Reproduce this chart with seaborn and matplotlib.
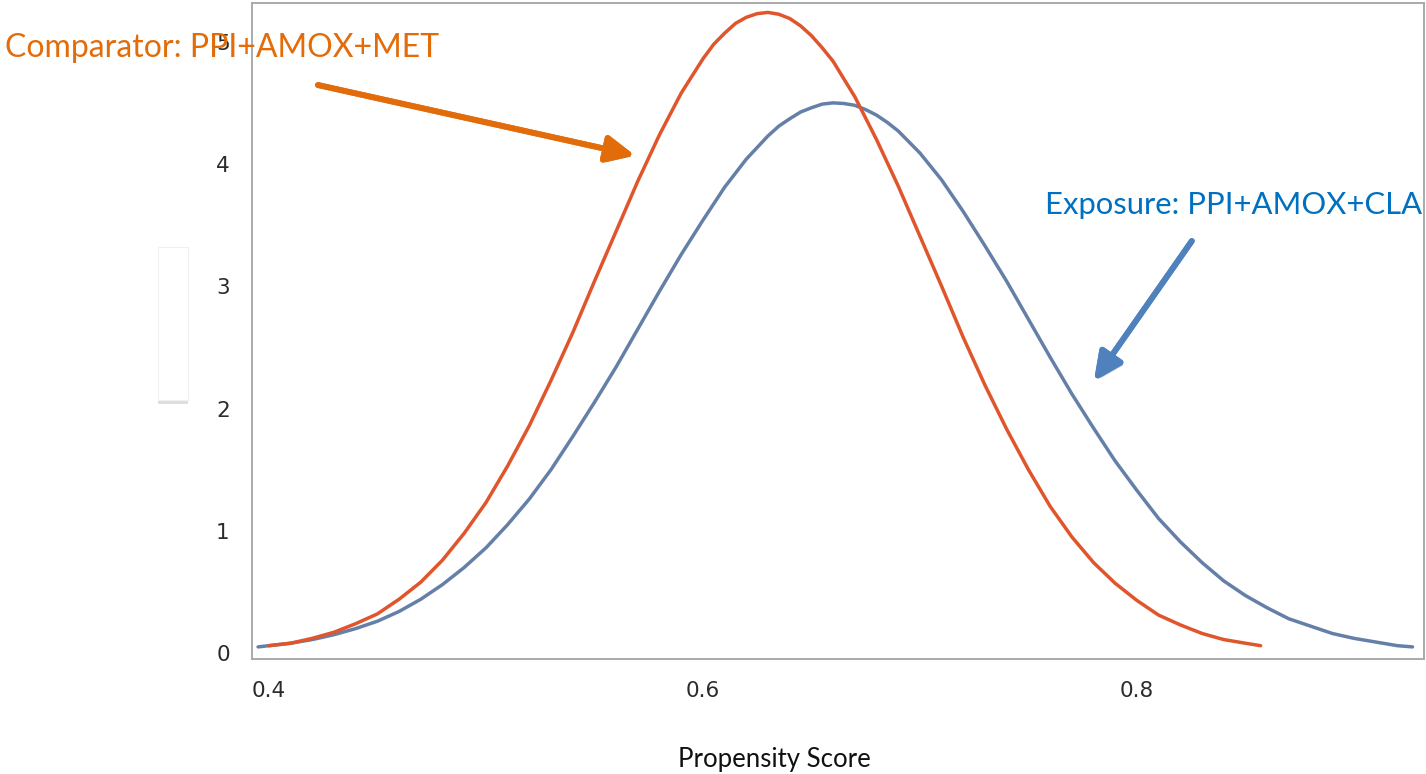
import matplotlib
matplotlib.use("Agg")
import matplotlib.pyplot as plt
import matplotlib.patheffects as pe
from matplotlib.patches import FancyBboxPatch
import pandas as pd
import seaborn as sns

# propensity score densities
comp_x = [0.40, 0.41, 0.42, 0.43, 0.44, 0.45, 0.46, 0.47, 0.48, 0.49,
          0.50, 0.51, 0.52, 0.53, 0.54, 0.55, 0.56, 0.57, 0.58, 0.59,
          0.60, 0.605, 0.61, 0.615, 0.62, 0.625, 0.63, 0.635, 0.64, 0.645,
          0.65, 0.655, 0.66, 0.67, 0.68, 0.69,
          0.70, 0.71, 0.72, 0.73, 0.74, 0.75, 0.76, 0.77, 0.78, 0.79,
          0.80, 0.81, 0.82, 0.83, 0.84, 0.85, 0.857]
comp_y = [0.06, 0.08, 0.12, 0.17, 0.24, 0.32, 0.44, 0.58, 0.76, 0.98,
          1.23, 1.53, 1.86, 2.23, 2.62, 3.04, 3.45, 3.86, 4.24, 4.58,
          4.86, 4.98, 5.07, 5.15, 5.20, 5.23, 5.24, 5.225, 5.19, 5.13,
          5.05, 4.95, 4.84, 4.55, 4.20, 3.82,
          3.41, 3.00, 2.58, 2.19, 1.83, 1.50, 1.20, 0.95, 0.74, 0.57,
          0.43, 0.31, 0.23, 0.16, 0.11, 0.08, 0.06]

expo_x = [0.395, 0.40, 0.41, 0.42, 0.43, 0.44, 0.45, 0.46, 0.47, 0.48, 0.49,
          0.50, 0.51, 0.52, 0.53, 0.54, 0.55, 0.56, 0.57, 0.58, 0.59,
          0.60, 0.61, 0.62, 0.63, 0.635, 0.64, 0.645, 0.65, 0.655, 0.66,
          0.665, 0.67, 0.675, 0.68, 0.685, 0.69,
          0.70, 0.71, 0.72, 0.73, 0.74, 0.75, 0.76, 0.77, 0.78, 0.79,
          0.80, 0.81, 0.82, 0.83, 0.84, 0.85, 0.86, 0.87, 0.88, 0.89,
          0.90, 0.91, 0.92, 0.927]
expo_y = [0.05, 0.06, 0.08, 0.11, 0.15, 0.20, 0.26, 0.34, 0.44, 0.56, 0.70,
          0.86, 1.05, 1.26, 1.50, 1.77, 2.05, 2.34, 2.65, 2.96, 3.26,
          3.54, 3.81, 4.04, 4.23, 4.31, 4.37, 4.425, 4.46, 4.49, 4.50,
          4.495, 4.48, 4.445, 4.40, 4.34, 4.27,
          4.09, 3.87, 3.61, 3.33, 3.04, 2.73, 2.42, 2.12, 1.84, 1.57,
          1.33, 1.10, 0.91, 0.74, 0.59, 0.47, 0.37, 0.28, 0.22, 0.16,
          0.12, 0.09, 0.06, 0.05]

x_ticks = [0.4, 0.6, 0.8]
y_ticks = [0, 1, 2, 3, 4, 5]

comp_label = "Comparator: PPI+AMOX+MET"
expo_label = "Exposure: PPI+AMOX+CLA"
x_label = "Propensity Score"

df = pd.concat([
    pd.DataFrame({"score": comp_x, "density": comp_y, "group": "comp"}),
    pd.DataFrame({"score": expo_x, "density": expo_y, "group": "expo"}),
])

sns.set_style("white")
plt.rcParams["font.family"] = ["DejaVu Sans"]

fig = plt.figure(figsize=(14.26, 7.74), dpi=100)
ax = fig.add_axes([252 / 1426, 1 - 659 / 774, (1424 - 252) / 1426, (659 - 3) / 774])

sns.lineplot(data=df, x="score", y="density", hue="group",
             palette={"comp": "#E0552B", "expo": "#6580A8"},
             hue_order=["expo", "comp"], sort=False, estimator=None,
             linewidth=2.5, legend=False, ax=ax,
             solid_joinstyle="round", solid_capstyle="round")

ax.set_xlim(0.3922, 0.9323)
ax.set_ylim(-0.049, 5.317)
ax.set_xticks(x_ticks)
ax.set_xticklabels([f"{t:.1f}" for t in x_ticks])
ax.set_yticks(y_ticks)
ax.set_xlabel("")
ax.set_ylabel("")
ax.tick_params(axis="both", direction="out", length=9, width=1.3,
               color="#a8aaad", labelsize=15.5, labelcolor="#2b2b2b", pad=7)
for lab in ax.get_xticklabels() + ax.get_yticklabels():
    lab.set_family("DejaVu Sans")
for side in ["left", "right", "top", "bottom"]:
    ax.spines[side].set_color("#a8aaad")
    ax.spines[side].set_linewidth(1.4)

# slide annotations
fig.text(774 / 1426, 1 - 767 / 774, x_label, ha="center", va="baseline",
         fontsize=18.5, family="Lato", color="#111111")
fig.text(5 / 1426, 1 - 57 / 774, comp_label, ha="left", va="baseline",
         fontsize=23, family="Lato", color="#E36C0A", zorder=10)
fig.text(1045 / 1426, 1 - 214 / 774, expo_label, ha="left", va="baseline",
         fontsize=22.3, family="Lato", color="#0070C0", zorder=10)

shadow = [pe.withSimplePatchShadow(offset=(2, -2), alpha=0.3), pe.Normal()]
ax.annotate("", xy=(0.5687, 4.07), xytext=(0.4226, 4.646),
            arrowprops=dict(arrowstyle="-|>,head_length=0.85,head_width=0.4",
                            mutation_scale=20, color="#E36C0A", lw=4.2,
                            shrinkA=0, shrinkB=0, path_effects=shadow))
ax.annotate("", xy=(0.7802, 2.225), xytext=(0.8253, 3.37),
            arrowprops=dict(arrowstyle="-|>,head_length=0.85,head_width=0.4",
                            mutation_scale=20, color="#4F81BD", lw=4.2,
                            shrinkA=0, shrinkB=0, path_effects=shadow))

# empty white text box left of the axis
box = FancyBboxPatch((158 / 1426, 1 - 400 / 774), 30 / 1426, 153 / 774,
                     boxstyle="square,pad=0", transform=fig.transFigure,
                     facecolor="white", edgecolor="#f0f0f0", linewidth=0.8,
                     path_effects=[pe.withSimplePatchShadow(offset=(0, -3), alpha=0.18),
                                   pe.Normal()])
fig.patches.append(box)

fig.savefig("out.png", dpi=100)
